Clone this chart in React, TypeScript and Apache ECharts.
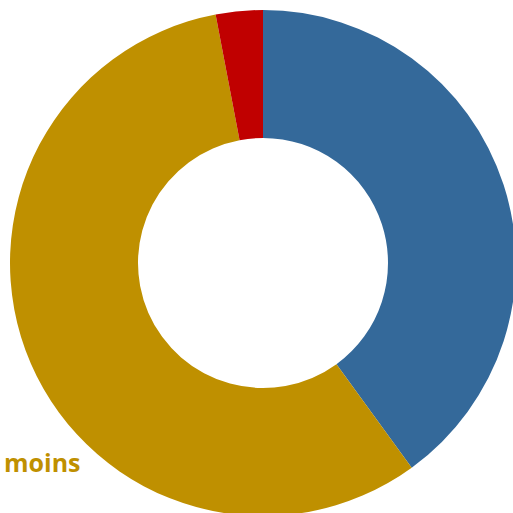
import React, { useEffect, useRef } from "react";
import * as echarts from "echarts";

const categories = ["Catégorie A", "Catégorie B", "Catégorie C"];
const values = [40, 57, 3];
const colors = ["#34699a", "#bf9000", "#c00000"];
const labelText = "moins";

export default function App() {
  const ref = useRef<HTMLDivElement>(null);
  useEffect(() => {
    if (!ref.current) return;
    const chart = echarts.init(ref.current, null, { renderer: "svg" });
    chart.setOption({
      animation: false,
      series: [
        {
          type: "pie",
          center: [263, 263],
          radius: [125, 253],
          startAngle: 90,
          clockwise: true,
          label: { show: false },
          labelLine: { show: false },
          itemStyle: { borderWidth: 0 },
          data: categories.map((c, i) => ({
            name: c,
            value: values[i],
            itemStyle: { color: colors[i] },
          })),
        },
      ],
      graphic: [
        {
          type: "text",
          left: 4,
          top: 449,
          style: {
            text: labelText,
            fill: "#bf9000",
            font: "bold 25px 'Open Sans', sans-serif",
          },
        },
      ],
    });
    return () => chart.dispose();
  }, []);
  return (
    <div
      ref={ref}
      style={{ position: "fixed", left: 0, top: 0, width: 513, height: 513, background: "#fff" }}
    />
  );
}
